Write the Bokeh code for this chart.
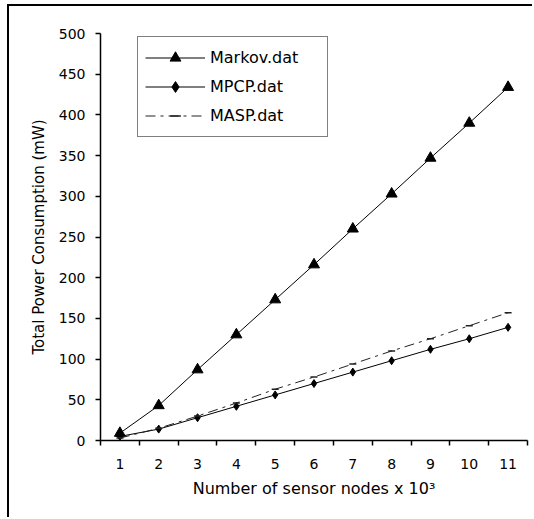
from bokeh.plotting import figure
from bokeh.models import FixedTicker, Range1d, Legend, LegendItem
from bokeh.embed import file_html
from bokeh.resources import INLINE

nodes = [1, 2, 3, 4, 5, 6, 7, 8, 9, 10, 11]
markov = [9, 43, 87, 130, 173, 216, 260, 303, 347, 390, 434]
mpcp = [5, 14, 28, 42, 56, 70, 84, 98, 112, 125, 139]
masp = [3, 15, 30, 46, 63, 78, 94, 110, 125, 141, 157]
y_ticks = [0, 50, 100, 150, 200, 250, 300, 350, 400, 450, 500]
x_bounds = [0.5 + i for i in range(12)]

FONT = "DejaVu Sans"

p = figure(width=525, height=513, output_backend="svg", toolbar_location=None,
           x_range=Range1d(0.5, 11.5), y_range=Range1d(0, 500),
           min_border_left=91, min_border_right=7, min_border_top=27, min_border_bottom=79)
p.margin = (4, 0, 0, 7)
p.styles = {"border-top": "2px solid black", "border-left": "2px solid black"}
p.outline_line_color = None
p.xgrid.grid_line_color = None
p.ygrid.grid_line_color = None
p.background_fill_color = "white"
p.border_fill_color = "white"

# axes
p.xaxis.ticker = FixedTicker(ticks=nodes, minor_ticks=x_bounds)
p.xaxis.major_tick_out = 0
p.xaxis.major_tick_in = 0
p.xaxis.minor_tick_out = 5
p.xaxis.minor_tick_in = 0
p.xaxis.major_label_standoff = 13
p.xaxis.axis_label = "Number of sensor nodes x 10\u00b3"
p.xaxis.axis_label_standoff = 7

p.yaxis.ticker = FixedTicker(ticks=y_ticks)
p.yaxis.major_tick_out = 5
p.yaxis.major_tick_in = 0
p.yaxis.minor_tick_out = 0
p.yaxis.minor_tick_in = 0
p.yaxis.major_label_standoff = 10
p.yaxis.axis_label = "Total Power Consumption (mW)"
p.yaxis.axis_label_standoff = 8

for ax in (p.xaxis[0], p.yaxis[0]):
    ax.axis_line_color = "black"
    ax.axis_line_width = 1.5
    ax.major_tick_line_color = "black"
    ax.minor_tick_line_color = "black"
    ax.major_tick_line_width = 1.5
    ax.minor_tick_line_width = 1.5
    ax.major_label_text_font = FONT
    ax.major_label_text_font_size = "14px"
    ax.major_label_text_color = "black"
    ax.axis_label_text_font = FONT
    ax.axis_label_text_font_style = "normal"
    ax.axis_label_text_color = "black"
p.xaxis.axis_label_text_font_size = "16px"
p.yaxis.axis_label_text_font_size = "15px"

# series
l1 = p.line(nodes, markov, line_color="black", line_width=1)
m1 = p.scatter(nodes, markov, marker="triangle", size=11, fill_color="black", line_color="black")
l2 = p.line(nodes, mpcp, line_color="black", line_width=1)
m2 = p.scatter(nodes, mpcp, marker="diamond", size=8, fill_color="black", line_color="black")
l3 = p.line(nodes, masp, line_color="#222222", line_width=1, line_dash="10 5 3 5")
m3 = p.scatter(nodes, masp, marker="dash", size=7, line_color="#222222", line_width=1.5)

legend = Legend(items=[
    LegendItem(label="Markov.dat", renderers=[l1, m1]),
    LegendItem(label="MPCP.dat", renderers=[l2, m2]),
    LegendItem(label="MASP.dat", renderers=[l3, m3]),
], location=(37, 303))
legend.margin = 0
legend.padding = 7
legend.spacing = 2
legend.glyph_width = 60
legend.glyph_height = 27
legend.label_height = 27
legend.label_width = 110
legend.label_standoff = 5
legend.label_text_font = FONT
legend.label_text_font_size = "16px"
legend.label_text_color = "black"
legend.border_line_color = "black"
legend.border_line_width = 1.5
legend.background_fill_color = "white"
legend.background_fill_alpha = 1
p.add_layout(legend)

open("out.html", "w").write(file_html(p, INLINE))
